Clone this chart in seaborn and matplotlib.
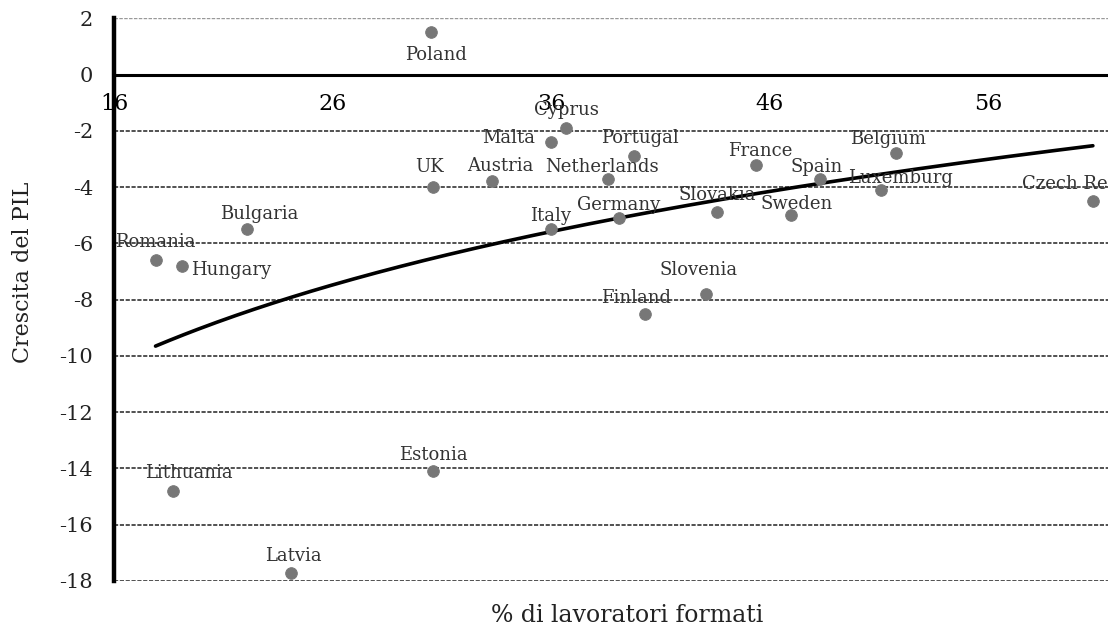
import numpy as np
import pandas as pd
import seaborn as sns
import matplotlib.pyplot as plt

countries = ["Poland", "Malta", "UK", "Austria", "Bulgaria", "Romania", "Hungary",
             "Italy", "Cyprus", "Portugal", "Netherlands", "Germany", "Slovakia",
             "France", "Spain", "Sweden", "Belgium", "Luxemburg", "Czech Republic",
             "Slovenia", "Finland", "Lithuania", "Estonia", "Latvia"]
formati = [30.5, 36.0, 30.6, 33.3, 22.1, 17.9, 19.1,
           36.0, 36.7, 39.8, 38.6, 39.1, 43.6,
           45.4, 48.3, 47.0, 51.8, 51.1, 60.8,
           43.1, 40.3, 18.7, 30.6, 24.1]
crescita = [1.5, -2.4, -4.0, -3.8, -5.5, -6.6, -6.8,
            -5.5, -1.9, -2.9, -3.7, -5.1, -4.9,
            -3.2, -3.7, -5.0, -2.8, -4.1, -4.5,
            -7.8, -8.5, -14.8, -14.1, -17.7]

# label offsets in pixels (dx, dy) and horizontal alignment
label_pos = {
    "Poland": (5, -23, "center"), "Malta": (-16, 4, "right"), "UK": (-4, 20, "center"),
    "Austria": (8, 15, "center"), "Bulgaria": (12, 15, "center"), "Romania": (0, 18, "center"),
    "Hungary": (9, -4, "left"), "Italy": (0, 13, "center"), "Cyprus": (0, 18, "center"),
    "Portugal": (6, 18, "center"), "Netherlands": (-6, 12, "center"), "Germany": (0, 13, "center"),
    "Slovakia": (0, 17, "center"), "France": (4, 14, "center"), "Spain": (-3, 12, "center"),
    "Sweden": (5, 11, "center"), "Belgium": (-8, 14, "center"), "Luxemburg": (20, 12, "center"),
    "Czech Republic": (0, 17, "center"), "Slovenia": (-8, 24, "center"), "Finland": (-9, 16, "center"),
    "Lithuania": (16, 18, "center"), "Estonia": (0, 16, "center"), "Latvia": (2, 17, "center"),
}

df = pd.DataFrame({"paese": countries, "formati": formati, "crescita": crescita})

# logarithmic trend line, like the spreadsheet one
b, a = np.polyfit(np.log(df["formati"]), df["crescita"], 1)
xt = np.linspace(df["formati"].min(), df["formati"].max(), 200)
trend = pd.DataFrame({"x": xt, "y": a + b * np.log(xt)})

sns.set_style("white")
plt.rcParams["font.family"] = ["DejaVu Serif"]
plt.rcParams["axes.unicode_minus"] = False

fig = plt.figure(figsize=(11.08, 6.28), dpi=100)
ax = fig.add_axes([114 / 1108, 1 - 581 / 628, 1 - 114 / 1108, (581 - 18.3) / 628])

for v in range(-18, 1, 2):
    if v == 0:
        continue
    ax.axhline(v, color="#333333", lw=1.2, ls=(0, (2.5, 1)), zorder=0)
ax.axhline(2, color="#999999", lw=1.0, ls=(0, (2.5, 1)), zorder=0)

sns.lineplot(data=trend, x="x", y="y", color="black", lw=2.6, ax=ax, zorder=3)
sns.scatterplot(data=df, x="formati", y="crescita", color="#777777", s=70,
                edgecolor="#777777", ax=ax, zorder=4, clip_on=False)

for name, xv, yv in zip(countries, formati, crescita):
    dx, dy, ha = label_pos[name]
    ax.annotate(name, (xv, yv), xytext=(dx * 0.72, dy * 0.72), textcoords="offset points",
                ha=ha, va="center", fontsize=13, color="#333333", zorder=5)

ax.set_xlim(16, 16 + (1108 - 114) / 21.85)
ax.set_ylim(-18, 2)
ax.set_xticks([16, 26, 36, 46, 56])
ax.set_yticks(range(-18, 3, 2))
ax.set_xlabel("")
ax.set_ylabel("")

for s in ["top", "right"]:
    ax.spines[s].set_visible(False)
ax.spines["bottom"].set_position(("data", 0))
ax.spines["bottom"].set_linewidth(2.2)
ax.spines["bottom"].set_color("black")
ax.spines["left"].set_linewidth(3.2)
ax.spines["left"].set_color("black")
ax.tick_params(axis="x", direction="out", length=6, width=2.2, pad=7, labelsize=16, colors="black")
ax.tick_params(axis="y", direction="out", length=5, width=2.2, pad=10, labelsize=15, colors="black")
ax.tick_params(axis="y", labelcolor="#222222")

fig.text(23 / 1108, 1 - 272 / 628, "Crescita del PIL", rotation=90, ha="center", va="center",
         fontsize=16, color="#222222")
fig.text(627 / 1108, 1 - 616 / 628, "% di lavoratori formati", ha="center", va="center",
         fontsize=17, color="#222222")

fig.savefig("out.png", dpi=100)
